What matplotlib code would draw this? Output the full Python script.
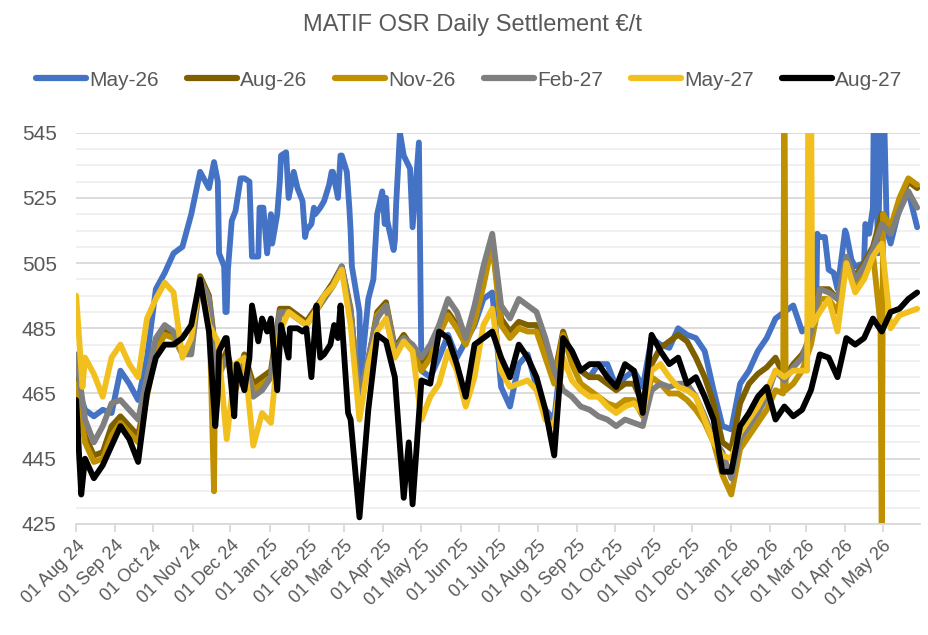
import numpy as np
import pandas as pd
import matplotlib
matplotlib.use('Agg')
import matplotlib.pyplot as plt
import matplotlib.dates as mdates
from matplotlib.ticker import MultipleLocator

plt.rcParams['font.family'] = ['Liberation Sans', 'DejaVu Sans']

# weekly settlement readings, Aug 2024 -> May 2026
dates = pd.date_range('2024-08-01', periods=96, freq='7D')

may26 = [468, 460, 458, 460, 459, 472, 468, 463, 476, 497, 502, 508, 510, 520, 533, 528,
         530, 490, 521, 531, 507, 522, 520, 530, 525, 528, 515, 520, 524, 533, 538, 515,
         490, 494, 520, 525, 512, 538, 516, 472, 470, 476, 483, 476, 481, 486, 494, 496,
         467, 461, 474, 477, 467, 460, 457, 482, 478, 472, 470, 474, 474, 467, 470, 472,
         467, 482, 480, 479, 485, 483, 482, 478, 466, 455, 454, 468, 472, 478, 482, 488,
         490, 492, 484, 486, 513, 503, 497, 514, 504, 505, 522, 565, 511, 522, 527, 516]

aug26 = [470, 452, 446, 447, 455, 458, 455, 452, 466, 480, 484, 483, 478, 480, 501, 495,
         472, 478, 468, 477, 468, 470, 472, 491, 491, 489, 487, 491, 495, 499, 504, 491,
         462, 475, 490, 493, 479, 483, 479, 474, 478, 484, 490, 486, 481, 488, 500, 512,
         488, 484, 487, 486, 486, 478, 470, 484, 476, 472, 470, 470, 468, 466, 468, 468,
         462, 474, 479, 481, 483, 481, 476, 470, 462, 450, 448, 462, 468, 471, 473, 476,
         470, 474, 477, 482, 497, 497, 494, 506, 501, 505, 510, 520, 515, 524, 530, 528]

nov26 = [468, 450, 444, 445, 452, 456, 453, 450, 464, 478, 483, 482, 477, 479, 500, 494,
         470, 476, 466, 475, 466, 468, 470, 489, 490, 488, 486, 490, 494, 498, 503, 490,
         460, 474, 489, 492, 478, 482, 478, 472, 476, 483, 489, 485, 480, 487, 498, 511,
         486, 482, 485, 484, 484, 476, 468, 483, 474, 468, 466, 464, 462, 461, 463, 463,
         458, 470, 468, 465, 465, 463, 460, 456, 450, 440, 434, 448, 452, 456, 460, 466,
         570, 468, 472, 480, 494, 494, 490, 504, 498, 502, 508, 415, 516, 525, 531, 529]

feb27 = [477, 457, 450, 455, 462, 463, 460, 457, 470, 482, 486, 484, 477, 477, 500, 494,
         470, 476, 470, 476, 464, 466, 470, 490, 490, 488, 486, 490, 494, 498, 504, 490,
         464, 476, 488, 492, 478, 482, 480, 476, 480, 486, 494, 490, 482, 492, 504, 514,
         492, 488, 494, 492, 490, 482, 472, 466, 464, 461, 460, 458, 457, 455, 457, 456,
         455, 466, 468, 467, 468, 468, 464, 458, 451, 447, 439, 451, 455, 459, 464, 472,
         469, 473, 476, 484, 497, 496, 494, 507, 500, 504, 509, 517, 514, 521, 527, 522]

may27 = [495, 476, 471, 464, 476, 480, 474, 470, 488, 494, 499, 496, 476, 482, 500, 486,
         481, 451, 474, 476, 449, 459, 456, 484, 490, 488, 486, 490, 495, 498, 503, 486,
         457, 474, 484, 488, 476, 481, 478, 457, 464, 468, 478, 472, 461, 470, 486, 491,
         472, 467, 468, 469, 466, 457, 455, 476, 469, 466, 464, 464, 461, 459, 461, 462,
         459, 472, 474, 470, 467, 466, 464, 457, 450, 446, 445, 453, 457, 461, 466, 472,
         470, 472, 472, 570, 490, 494, 484, 505, 496, 500, 507, 511, 485, 489, 490, 491]

aug27 = [463, 445, 439, 443, 449, 455, 451, 444, 465, 476, 480, 480, 482, 486, 500, 484,
         465, 482, 466, 466, 490, 488, 488, 480, 476, 485, 485, 486, 477, 484, 488, 457,
         427, 460, 483, 481, 470, 433, 431, 469, 468, 484, 482, 474, 464, 480, 482, 484,
         476, 470, 480, 476, 470, 460, 446, 482, 478, 472, 474, 474, 470, 467, 474, 472,
         459, 483, 478, 474, 476, 468, 470, 464, 457, 441, 441, 455, 459, 464, 467, 457,
         461, 458, 460, 466, 477, 476, 470, 482, 480, 482, 488, 484, 490, 491, 494, 496]

# single-day readings between the weekly points
may26_days = {
    '2024-11-18': 536, '2024-11-20': 532, '2024-11-22': 508, '2024-11-26': 504,
    '2024-11-27': 490, '2024-11-29': 503, '2024-12-02': 518, '2024-12-09': 531,
    '2024-12-16': 530, '2024-12-18': 507, '2024-12-23': 507, '2024-12-24': 522,
    '2024-12-27': 522, '2024-12-30': 508, '2025-01-03': 511, '2025-01-07': 520,
    '2025-01-10': 538, '2025-01-14': 539, '2025-01-20': 533, '2025-01-27': 524,
    '2025-01-29': 513, '2025-02-03': 517, '2025-02-05': 522, '2025-02-10': 522,
    '2025-02-17': 529, '2025-02-19': 533, '2025-02-24': 525, '2025-02-26': 538,
    '2025-03-03': 533, '2025-03-05': 522, '2025-03-07': 504,
    '2025-03-14': 470, '2025-03-24': 500, '2025-03-31': 527, '2025-04-02': 517,
    '2025-04-04': 518, '2025-04-09': 509, '2025-04-11': 523, '2025-04-14': 545,
    '2025-04-22': 534, '2025-04-29': 542,
    '2026-03-09': 488, '2026-03-10': 514, '2026-03-16': 513, '2026-03-23': 502,
    '2026-04-01': 515, '2026-04-06': 506, '2026-04-17': 517, '2026-04-20': 514,
    '2026-04-24': 565, '2026-04-27': 508, '2026-05-01': 565, '2026-05-04': 515,
}
nov26_days = {'2024-11-18': 435, '2024-11-19': 480, '2026-02-11': 465, '2026-02-13': 466,
              '2026-04-29': 486, '2026-05-01': 520}
may27_days = {'2024-08-06': 467, '2026-03-02': 472, '2026-03-03': 570, '2026-03-06': 486}
aug27_days = {
    '2024-08-05': 434, '2024-11-19': 455, '2024-11-22': 478, '2024-11-27': 482,
    '2024-12-04': 458, '2024-12-06': 474, '2024-12-16': 476, '2024-12-18': 492,
    '2024-12-23': 481, '2024-12-30': 484, '2025-01-07': 466, '2025-01-10': 486,
    '2025-01-17': 485, '2025-01-27': 484, '2025-02-03': 470, '2025-02-07': 492,
    '2025-02-10': 476, '2025-02-18': 480, '2025-02-21': 486, '2025-02-24': 482,
    '2025-02-26': 492, '2025-02-28': 482, '2025-03-04': 459, '2025-04-21': 450,
}

series = [
    ('May-26', may26, may26_days, '#4472C4'),
    ('Aug-26', aug26, {}, '#7F6000'),
    ('Nov-26', nov26, nov26_days, '#BF9000'),
    ('Feb-27', feb27, {}, '#7F7F7F'),
    ('May-27', may27, may27_days, '#F2C01E'),
    ('Aug-27', aug27, aug27_days, '#000000'),
]

fig = plt.figure(figsize=(9.29, 6.35), dpi=100)
ax = fig.add_axes([0.082, 0.175, 0.908, 0.616])

for name, vals, days, col in series:
    s = pd.Series(vals, index=dates, dtype=float)
    if days:
        extra = pd.Series(list(days.values()), index=pd.to_datetime(list(days.keys())), dtype=float)
        s = pd.concat([extra, s])
        s = s[~s.index.duplicated(keep='first')].sort_index()
    ax.plot(s.index, s.values, color=col, lw=4.2, label=name,
            solid_joinstyle='round', solid_capstyle='round')

ax.set_ylim(425, 545)
ax.set_yticks(range(425, 546, 20))
ax.yaxis.set_minor_locator(MultipleLocator(5))
ax.grid(which='major', axis='y', color='#D9D9D9', lw=1.3)
ax.grid(which='minor', axis='y', color='#EFEFEF', lw=1.3)
ax.set_axisbelow(True)

ax.set_xlim(pd.Timestamp('2024-08-01'), pd.Timestamp('2026-05-30'))
ax.xaxis.set_major_locator(mdates.MonthLocator())
ax.xaxis.set_major_formatter(mdates.DateFormatter('%d %b %y'))

for side in ['left', 'right', 'top']:
    ax.spines[side].set_visible(False)
ax.spines['bottom'].set_color('#D9D9D9')
ax.spines['bottom'].set_linewidth(1.3)

ax.tick_params(axis='y', which='both', length=0, labelsize=15, labelcolor='#595959', pad=14)
ax.tick_params(axis='x', length=6, width=1.3, color='#D9D9D9', labelsize=13, labelcolor='#595959')
for lab in ax.get_xticklabels():
    lab.set_rotation(45)
    lab.set_ha('right')
    lab.set_rotation_mode('anchor')

fig.text(0.509, 0.961, 'MATIF OSR Daily Settlement €/t', ha='center', va='center',
         fontsize=17, color='#595959')

leg = fig.legend(loc='center', bbox_to_anchor=(0.505, 0.874), ncol=6, frameon=False,
                 fontsize=15, handlelength=2.4, handletextpad=0.15, columnspacing=1.35,
                 labelcolor='#595959')
for line in leg.get_lines():
    line.set_linewidth(4.5)

fig.savefig('out.png', dpi=100)
